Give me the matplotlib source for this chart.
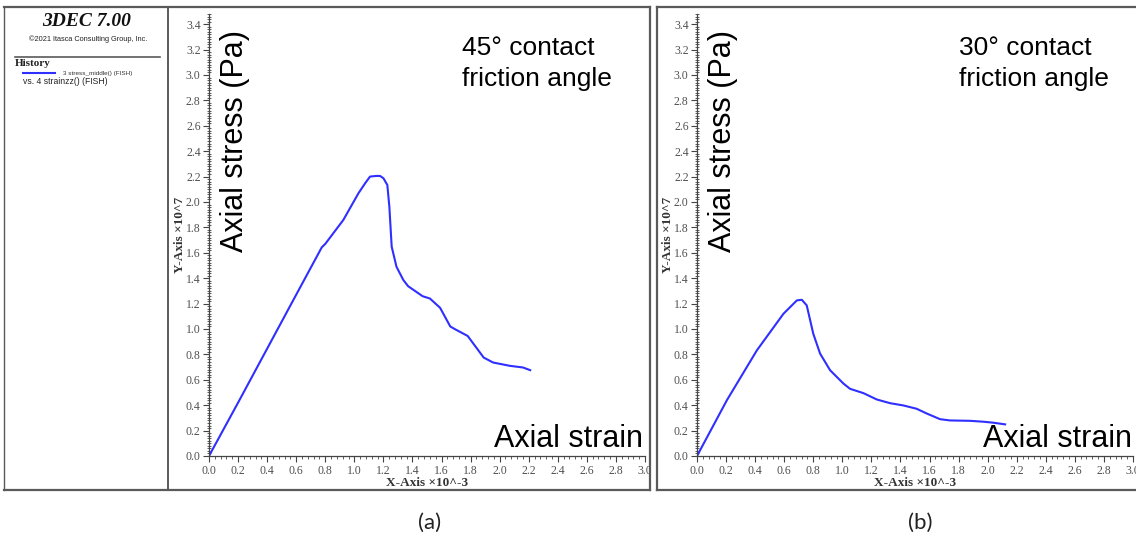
import matplotlib
matplotlib.use("Agg")
import matplotlib.pyplot as plt
from matplotlib.lines import Line2D
from matplotlib.patches import Rectangle
from matplotlib.ticker import MultipleLocator, FormatStrFormatter

# ---- data (strain x1e-3, stress x1e7 Pa) ----
strain_a = [0.0, 0.2, 0.4, 0.6, 0.776, 0.80, 0.924, 1.028, 1.074, 1.108, 1.15, 1.177,
            1.20, 1.227, 1.241, 1.257, 1.29, 1.337, 1.37, 1.47, 1.52, 1.59, 1.66, 1.69,
            1.78, 1.89, 1.955, 2.07, 2.16, 2.21]
stress_a = [0.0, 0.42, 0.845, 1.27, 1.643, 1.67, 1.858, 2.068, 2.147, 2.20, 2.205, 2.205,
            2.187, 2.134, 1.963, 1.648, 1.49, 1.386, 1.337, 1.258, 1.24, 1.167, 1.02, 1.0,
            0.945, 0.775, 0.736, 0.71, 0.697, 0.676]
strain_b = [0.0, 0.206, 0.412, 0.595, 0.687, 0.721, 0.755, 0.80, 0.847, 0.916, 1.007,
            1.053, 1.145, 1.237, 1.328, 1.42, 1.511, 1.58, 1.672, 1.74, 1.878, 1.97, 2.04, 2.12]
stress_b = [0.0, 0.44, 0.832, 1.12, 1.225, 1.23, 1.186, 0.963, 0.806, 0.675, 0.571,
            0.529, 0.495, 0.445, 0.416, 0.398, 0.372, 0.335, 0.29, 0.28, 0.277, 0.27, 0.262, 0.249]
panel_titles = [["45° contact", "friction angle"], ["30° contact", "friction angle"]]
panel_letters = ["(a)", "(b)"]
x_label = "X-Axis ×10^-3"
y_label = "Y-Axis ×10^7"

W, H = 1136, 540
fig = plt.figure(figsize=(W / 100, H / 100), dpi=100)
fig.patch.set_facecolor("white")

def fx(px):
    return px / W

def fy(py):
    return 1 - py / H

AX_GREY = "#505050"
LINE_BLUE = "#2f2fff"
serif = ["Liberation Serif", "DejaVu Serif"]
sans = ["Liberation Sans", "DejaVu Sans"]

panels = [
    dict(x0=209, x=strain_a, y=stress_a, txt_x=462, strain_right=643),
    dict(x0=697, x=strain_b, y=stress_b, txt_x=959, strain_right=1132),
]

for i, p in enumerate(panels):
    left = fx(p["x0"])
    width = 436 / W
    bottom = fy(456)
    height = (456 - 14) / H
    ax = fig.add_axes([left, bottom, width, height])
    ax.plot(p["x"], p["y"], color=LINE_BLUE, lw=1.5, solid_joinstyle="round")
    ax.set_xlim(0, 3.0)
    ax.set_ylim(0, 3.48)
    for s in ["top", "right"]:
        ax.spines[s].set_visible(False)
    for s in ["left", "bottom"]:
        ax.spines[s].set_color("#444444")
        ax.spines[s].set_linewidth(0.9)
    ax.xaxis.set_major_locator(MultipleLocator(0.2))
    ax.xaxis.set_minor_locator(MultipleLocator(0.04))
    ax.yaxis.set_major_locator(MultipleLocator(0.2))
    ax.yaxis.set_minor_locator(MultipleLocator(0.02))
    ax.xaxis.set_major_formatter(FormatStrFormatter("%.1f"))
    ax.yaxis.set_major_formatter(FormatStrFormatter("%.1f"))
    ax.tick_params(axis="both", which="major", direction="out", length=4, width=0.8,
                   color="#444444", labelcolor=AX_GREY, labelsize=8.5, pad=2)
    ax.tick_params(axis="x", which="minor", direction="out", length=2, width=0.6, color="#444444")
    ax.tick_params(axis="y", which="minor", direction="inout", length=2.5, width=0.6, color="#444444")
    ax.tick_params(axis="x", which="major", pad=2.5)
    for lab in ax.get_xticklabels() + ax.get_yticklabels():
        lab.set_family(serif)
    ax.set_xlabel(x_label, family=serif, fontweight="bold", fontsize=9.5, color="#333333", labelpad=0)
    ax.set_ylabel(y_label, family=serif, fontweight="bold", fontsize=9.5, color="#333333", labelpad=0)
    ax.patch.set_alpha(0)

    # big annotations
    fig.text(fx(p["x0"] + 26), fy(252), "Axial stress (Pa)", rotation=90, family=sans,
             fontsize=22, ha="center", va="bottom", color="black")
    fig.text(fx(p["strain_right"]), fy(447), "Axial strain", family=sans, fontsize=22,
             ha="right", va="baseline", color="black")
    fig.text(fx(p["txt_x"]), fy(55), panel_titles[i][0], family=sans, fontsize=19,
             ha="left", va="baseline", color="black")
    fig.text(fx(p["txt_x"]), fy(86), panel_titles[i][1], family=sans, fontsize=19,
             ha="left", va="baseline", color="black")

# letters below
fig.text(fx(430), fy(523), panel_letters[0], family=["Lato", "DejaVu Sans"], fontsize=16,
         ha="center", va="center", color="#222222")
fig.text(fx(920), fy(523), panel_letters[1], family=["Lato", "DejaVu Sans"], fontsize=16,
         ha="center", va="center", color="#222222")

# white gap between panels (hides overflow)
fig.add_artist(Rectangle((fx(650), fy(491)), (657 - 650) / W, (491 - 6) / H,
                         transform=fig.transFigure, facecolor="white", edgecolor="none", zorder=9))

# frames
FR = "#5a5a5a"
def hline(x1, x2, y, lw=1.6):
    fig.add_artist(Line2D([fx(x1), fx(x2)], [fy(y), fy(y)], transform=fig.transFigure,
                          color=FR, lw=lw, zorder=10))

def vline(x, y1, y2, lw=1.6):
    fig.add_artist(Line2D([fx(x), fx(x)], [fy(y1), fy(y2)], transform=fig.transFigure,
                          color=FR, lw=lw, zorder=10))

hline(4, 650, 7)
hline(657, 1136, 7)
hline(4, 650, 490)
hline(657, 1136, 490)
vline(4, 7, 490, lw=1.0)
vline(168, 7, 490, lw=1.4)
vline(650, 7, 490)
vline(657, 7, 490)

# left legend panel
fig.text(fx(87), fy(21), "3DEC 7.00", family=serif, fontweight="bold", style="italic",
         fontsize=14, ha="center", va="center", color="#111111")
fig.text(fx(88), fy(39), "©2021 Itasca Consulting Group, Inc.", family=sans, fontsize=5.3,
         ha="center", va="center", color="#222222")
hline(15, 160, 57, lw=1.2)
fig.text(fx(15), fy(64), "History", family=serif, fontweight="bold", fontsize=8,
         ha="left", va="center", color="#222222")
fig.add_artist(Line2D([fx(23), fx(55)], [fy(73), fy(73)], transform=fig.transFigure,
                      color=LINE_BLUE, lw=1.5, zorder=10))
fig.text(fx(63), fy(73), "3 stress_middle() (FISH)", family=sans, fontsize=4.6,
         ha="left", va="center", color="#333333")
fig.text(fx(23), fy(82), "vs. 4 strainzz() (FISH)", family=sans, fontsize=6.2,
         ha="left", va="center", color="#222222")

fig.savefig("out.png", dpi=100, facecolor="white")
